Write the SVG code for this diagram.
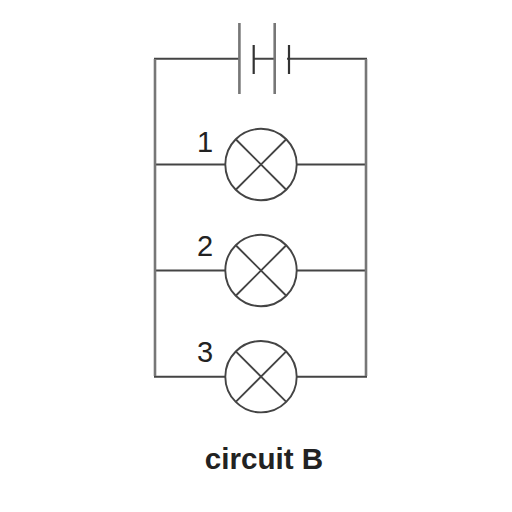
<svg xmlns="http://www.w3.org/2000/svg" width="512" height="512" viewBox="0 0 512 512">
<style>
.w{fill:none;stroke:#444;stroke-width:2;stroke-linecap:square}
.g{fill:none;stroke:#777;stroke-width:2.6}
.s{fill:none;stroke:#333;stroke-width:2.2}
.l{fill:none;stroke:#444;stroke-width:1.9}
.t{font-family:"Liberation Sans",Arial,sans-serif;fill:#222}
.n{font-size:29px;text-anchor:middle}
</style>
<rect width="512" height="512" fill="#fff"/>
<defs>
<g id="lamp"><circle r="35.7" cx="0" cy="0" class="l" fill="none"/><path class="l" d="M-25-25L25 25M25-25L-25 25"/></g>
</defs>
<g id="connectors">
<path class="w" d="M239 58.7H155V376.7H225M288 58.7H366V376.7H297M155 164.5H225M297 164.5H366M155 270.5H225M297 270.5H366M254 58.7H275"/>
<path class="g" d="M155 59V376M366 59V376"/>
</g>
<g id="battery">
<path class="g" d="M239.4 23V94M274.7 23V94"/>
<path class="s" d="M253.7 45V74M289 45V74"/>
</g>
<g id="lamp1"><use href="#lamp" x="261" y="164.5"/><text class="t n" x="205" y="152">1</text></g>
<g id="lamp2"><use href="#lamp" x="261" y="270.5"/><text class="t n" x="205" y="256">2</text></g>
<g id="lamp3"><use href="#lamp" x="261" y="376.7"/><text class="t n" x="205" y="362">3</text></g>
<g id="caption"><text class="t" x="264" y="469" font-size="29.6" font-weight="700" text-anchor="middle">circuit B</text></g>
</svg>
